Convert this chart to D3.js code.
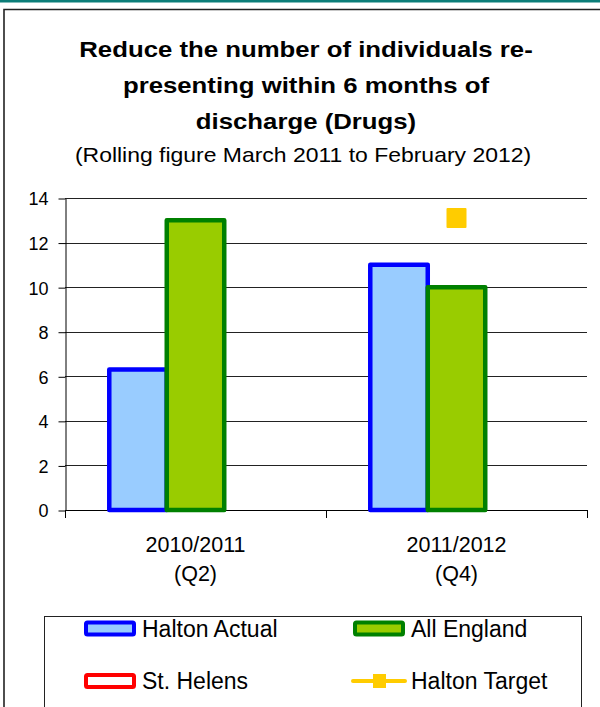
<!DOCTYPE html>
<html>
<head>
<meta charset="utf-8">
<script src="https://cdn.jsdelivr.net/npm/d3@7"></script>
<style>
  html, body { margin: 0; padding: 0; background: #fff; overflow: hidden; }
  svg { display: block; font-family: "Liberation Sans", Arial, sans-serif; }
</style>
</head>
<body>
<svg id="chart"></svg>
<script>
// data
const categories = ["2010/2011|(Q2)", "2011/2012|(Q4)"];
const seriesNames = ["Halton Actual", "All England", "St. Helens"];
const haltonActual = [6.3, 11];
const allEngland = [13, 10];
const stHelens = [null, null];
const haltonTarget = [null, 13.1];
const yTicks = [0, 2, 4, 6, 8, 10, 12, 14];
const titleLines = ["Reduce the number of individuals re-", "presenting within 6 months of", "discharge (Drugs)"];
const subtitle = "(Rolling figure March 2011 to February 2012)";

const W = 600, H = 707;
const svg = d3.select("#chart").attr("width", W).attr("height", H);

// page decoration: teal band and the left/top edge of the frame
svg.append("rect").attr("x", 0).attr("y", 0).attr("width", W).attr("height", 2.5).attr("fill", "#0b7d78");
svg.append("path")
  .attr("d", `M4,${H + 5}V9.5H${W + 5}`)
  .attr("fill", "none").attr("stroke", "#222").attr("stroke-width", 1.6);

// title
titleLines.forEach((t, i) => {
  svg.append("text")
    .attr("transform", `translate(306,${57 + i * 36}) scale(1.12,1)`)
    .attr("text-anchor", "middle")
    .style("font-size", "23px")
    .style("font-weight", "bold")
    .attr("fill", "#000")
    .text(t);
});
svg.append("text")
  .attr("transform", "translate(303,162) scale(1.12,1)")
  .attr("text-anchor", "middle")
  .style("font-size", "20.5px")
  .attr("fill", "#000")
  .text(subtitle);

// plot area
const plot = { left: 65, right: 587, top: 198, bottom: 510 };

const y = d3.scaleLinear().domain([0, 14]).range([plot.bottom, plot.top]);
const x0 = d3.scaleBand().domain(categories).range([plot.left, plot.right]).padding(0);
const x1 = d3.scaleBand().domain(seriesNames).range([0, x0.bandwidth()])
  .paddingInner(0).paddingOuter(0.77);

// gridlines
svg.append("g").selectAll("line")
  .data(yTicks.filter(d => d > 0))
  .join("line")
  .attr("x1", plot.left).attr("x2", plot.right)
  .attr("y1", d => Math.round(y(d)) + 0.5).attr("y2", d => Math.round(y(d)) + 0.5)
  .attr("stroke", "#222").attr("stroke-width", 1);

// y axis
const yAxis = svg.append("g")
  .attr("transform", `translate(${plot.left + 0.5},0.5)`)
  .call(d3.axisLeft(y).tickValues(yTicks).tickSize(7).tickSizeOuter(0).tickPadding(10));
yAxis.select(".domain").attr("stroke", "#000");
yAxis.selectAll(".tick line").attr("stroke", "#000");
yAxis.selectAll(".tick text")
  .attr("fill", "#000")
  .attr("dy", "0.36em")
  .style("font-size", "18px")
  .style("font-family", "'Liberation Sans', Arial, sans-serif");

// x axis: line + category boundary ticks
const xAxisG = svg.append("g");
xAxisG.append("line")
  .attr("x1", plot.left).attr("x2", plot.right)
  .attr("y1", plot.bottom + 0.5).attr("y2", plot.bottom + 0.5)
  .attr("stroke", "#000");
const boundaries = categories.map(c => x0(c)).concat([x0(categories[categories.length - 1]) + x0.bandwidth()]);
xAxisG.selectAll(".bt")
  .data(boundaries)
  .join("line")
  .attr("x1", d => Math.round(d) + 0.5).attr("x2", d => Math.round(d) + 0.5)
  .attr("y1", plot.bottom).attr("y2", plot.bottom + 8)
  .attr("stroke", "#000");

// category labels (two lines)
const catLabels = xAxisG.selectAll(".cat")
  .data(categories)
  .join("text")
  .attr("text-anchor", "middle")
  .style("font-size", "21.5px")
  .attr("fill", "#000");
catLabels.each(function(d) {
  const parts = d.split("|");
  const cx = x0(d) + x0.bandwidth() / 2;
  parts.forEach((p, i) => {
    d3.select(this).append("tspan")
      .attr("x", cx)
      .attr("y", 552 + i * 29)
      .text(p);
  });
});

// bars
const styles = {
  "Halton Actual": { fill: "#99ccff", stroke: "#0000ff" },
  "All England": { fill: "#99cc00", stroke: "#008000" },
  "St. Helens": { fill: "#ffffff", stroke: "#ff0000" }
};
const seriesValues = [haltonActual, allEngland, stHelens];
const barData = [];
categories.forEach((c, ci) => {
  seriesNames.forEach((s, si) => {
    const v = seriesValues[si][ci];
    if (v != null) barData.push({ cat: c, series: s, value: v });
  });
});

svg.append("g").selectAll("rect")
  .data(barData)
  .join("rect")
  .attr("x", d => x0(d.cat) + x1(d.series))
  .attr("width", x1.bandwidth())
  .attr("y", d => y(d.value))
  .attr("height", d => y(0) - y(d.value))
  .attr("fill", d => styles[d.series].fill)
  .attr("stroke", d => styles[d.series].stroke)
  .attr("stroke-width", 4.5)
  .attr("stroke-linejoin", "round");

// target markers
const targetData = categories.map((c, i) => ({ cat: c, value: haltonTarget[i] })).filter(d => d.value != null);
svg.append("g").selectAll("rect")
  .data(targetData)
  .join("rect")
  .attr("x", d => x0(d.cat) + x0.bandwidth() / 2 - 10)
  .attr("y", d => y(d.value) - 10)
  .attr("width", 20).attr("height", 20)
  .attr("rx", 1)
  .attr("fill", "#ffcc00");

// legend
const legend = svg.append("g");
legend.append("rect")
  .attr("x", 44.5).attr("y", 616.5).attr("width", 537).attr("height", 140)
  .attr("fill", "#fff").attr("stroke", "#222").attr("stroke-width", 1);

const legendItems = [
  { name: "Halton Actual", type: "bar", col: 0, row: 0 },
  { name: "All England", type: "bar", col: 1, row: 0 },
  { name: "St. Helens", type: "bar", col: 0, row: 1 },
  { name: "Halton Target", type: "line", col: 1, row: 1 }
];
const colX = [86, 355];
const rowY = [628.5, 681];

legendItems.forEach(it => {
  const lx = colX[it.col], ly = rowY[it.row];
  if (it.type === "bar") {
    legend.append("rect")
      .attr("x", lx).attr("y", ly - 6)
      .attr("width", 48).attr("height", 12)
      .attr("rx", 1.5)
      .attr("fill", styles[it.name].fill)
      .attr("stroke", styles[it.name].stroke)
      .attr("stroke-width", 4);
  } else {
    legend.append("line")
      .attr("x1", lx - 2).attr("x2", lx + 50)
      .attr("y1", ly).attr("y2", ly)
      .attr("stroke", "#ffcc00").attr("stroke-width", 4)
      .attr("stroke-linecap", "round");
    legend.append("rect")
      .attr("x", lx + 18).attr("y", ly - 7)
      .attr("width", 13).attr("height", 14)
      .attr("fill", "#ffcc00");
  }
  legend.append("text")
    .attr("x", lx + 56)
    .attr("y", ly + 8)
    .style("font-size", "23px")
    .attr("fill", "#000")
    .text(it.name);
});
</script>
</body>
</html>
